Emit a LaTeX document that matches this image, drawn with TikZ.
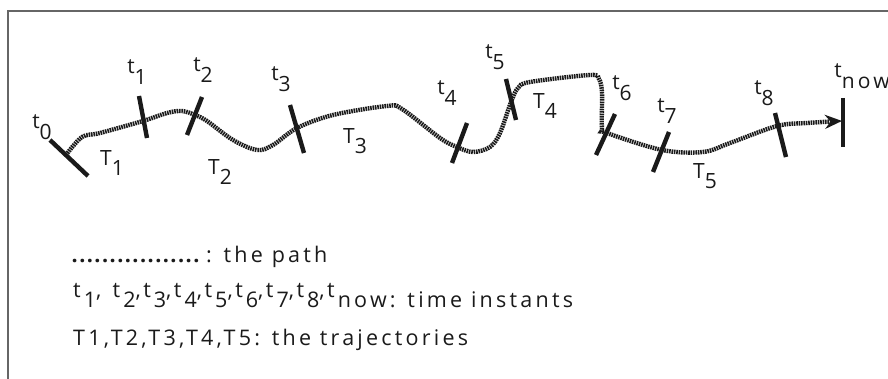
\documentclass[tikz,border=0pt]{standalone}
\usepackage{fontspec}
\usetikzlibrary{arrows.meta}
\setmainfont{Open Sans}[LetterSpace=15]
\definecolor{framegray}{HTML}{666666}
\definecolor{ink}{HTML}{1A1A1A}
% letter with a lowered index of the same size
\newcommand{\lowsub}[2]{#1\raisebox{-0.5em}{#2}}
% same, with the wider spacing of the legend
\newcommand{\keysub}[2]{#1\kern3pt\raisebox{-0.5em}{#2}}
\newcommand{\dotrow}{\hbox to 130pt{\cleaders\hbox to 7.6pt{\hss\textbf{.}\hss}\hfill}}

\begin{document}
\begin{tikzpicture}[x=1pt, y=-1pt, >=stealth,
    tickmark/.style={line width=4.4pt, ink},
    trail/.style={line width=4.4pt, ink, dash pattern=on 1.6pt off 0.8pt},
    lbl/.style={inner sep=0pt, text=ink, font=\fontsize{21}{24}\selectfont},
    legend/.style={inner sep=0pt, text=ink, anchor=base west,
      font=\fontsize{21.5}{25}\selectfont}]

    \useasboundingbox (0,0) rectangle (888,379);

    % Frame
    \draw[framegray, line width=1.5pt] (8,385) -- (8,11) -- (895,11);

    % The path
    \draw[trail, -{Stealth[length=17pt, width=14pt, sep=-1pt]}]
      plot[smooth, tension=0.55] coordinates {
        (66,155) (82,137) (100,133) (143,121) (167,113) (182,111)
        (195,115) (207,121) (233,140) (257,150) (273,145) (297,128)
        (333,115) (387,106) (402,109) (440,138) (457,147) (473,152)
        (490,147) (500,133) (511,102) (518,88) (530,82) (590,75)
        (599,79) (602,93) (602,128) (607,133) (662,150) (703,152)
        (730,143) (777,126) (807,123) (841,121)};

    % Time instants
    \foreach \xa/\ya/\xb/\yb in {50/140/88/176, 139/96/147/138,
        202/97/187/135, 290/105/304/153, 467/123/452/163,
        506/79/516/120, 615/114/596/155, 669/132/653/172,
        775/113/786/157, 843/98/843/147}
      \draw[tickmark] (\xa,\ya) -- (\xb,\yb);

    % Instant labels
    \node[lbl] (t0) at (42,127) {\lowsub{t}{0}};
    \node[lbl] (t1) at (137,72) {\lowsub{t}{1}};
    \node[lbl] (t2) at (203,70) {\lowsub{t}{2}};
    \node[lbl] (t3) at (281,79) {\lowsub{t}{3}};
    \node[lbl] (t4) at (447,93) {\lowsub{t}{4}};
    \node[lbl] (t5) at (495,57) {\lowsub{t}{5}};
    \node[lbl] (t6) at (622,88) {\lowsub{t}{6}};
    \node[lbl] (t7) at (667,111) {\lowsub{t}{7}};
    \node[lbl] (t8) at (764,93) {\lowsub{t}{8}};
    \node[lbl] (tnow) at (862,76) {\lowsub{t}{now}};

    % Trajectory labels
    \node[lbl] (T1) at (112,163) {\lowsub{T}{1}};
    \node[lbl] (T2) at (220,172) {\lowsub{T}{2}};
    \node[lbl] (T3) at (355,141) {\lowsub{T}{3}};
    \node[lbl] (T4) at (545,106) {\lowsub{T}{4}};
    \node[lbl] (T5) at (705,176) {\lowsub{T}{5}};

    % Legend
    \node[legend] (key1) at (72,262) {\dotrow\kern4pt: the path};
    \node[legend] (key2) at (73,297) {\keysub{t}{1},\kern2.5pt\ \keysub{t}{2},\kern2.5pt\keysub{t}{3},\kern2.5pt\keysub{t}{4},\kern2.5pt\keysub{t}{5},\kern2.5pt\keysub{t}{6},\kern2.5pt\keysub{t}{7},\kern2.5pt\keysub{t}{8},\kern2.5pt\keysub{t}{now: time instants}};
    \node[legend] (key3) at (73,345) {T1,T2,T3,T4,T5: the trajectories};

\end{tikzpicture}
\end{document}
